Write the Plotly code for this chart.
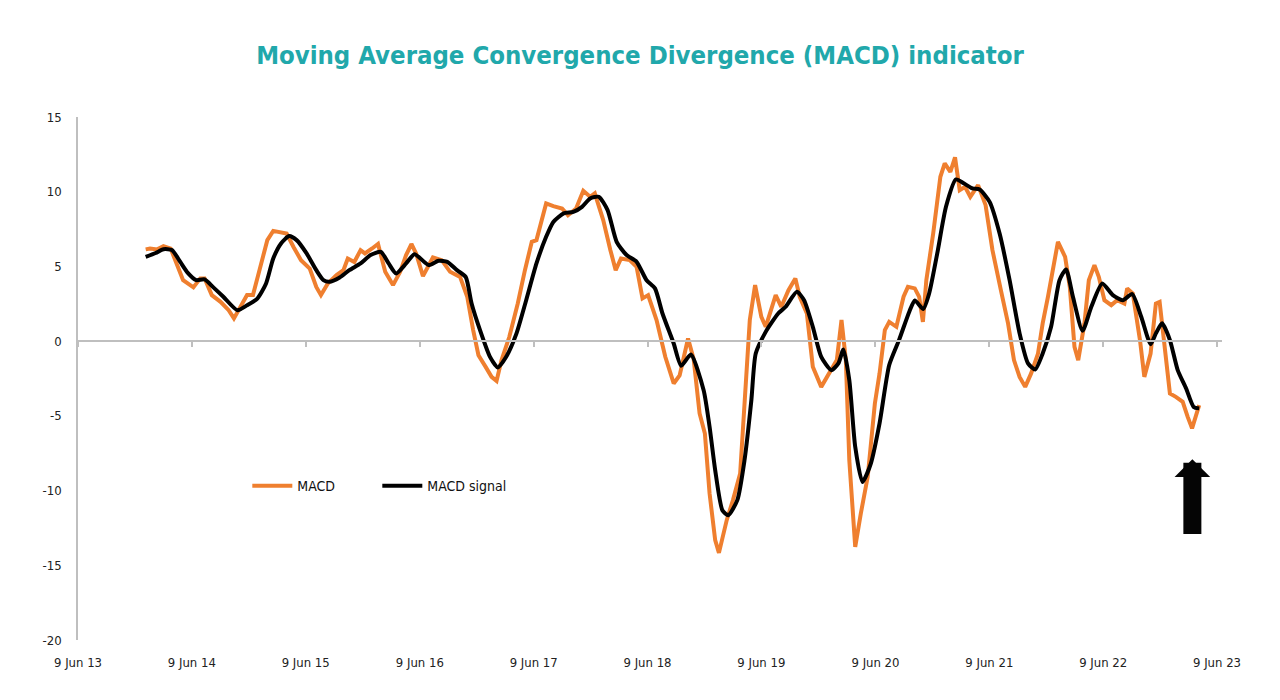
import plotly.graph_objects as go

# ---------------- data ----------------
macd_dates = [
    "2014-01-12", "2014-01-26", "2014-02-18", "2014-03-10", "2014-04-02", "2014-04-21", "2014-05-12",
    "2014-06-14", "2014-07-06", "2014-07-20", "2014-08-12", "2014-09-09", "2014-10-05", "2014-10-22",
    "2014-11-12", "2014-12-03", "2014-12-22", "2015-01-14", "2015-02-06", "2015-02-25", "2015-03-17",
    "2015-04-09", "2015-05-01", "2015-05-25", "2015-06-22", "2015-07-13", "2015-07-28", "2015-08-19",
    "2015-09-16", "2015-10-08", "2015-10-22", "2015-11-12", "2015-12-02", "2015-12-16", "2016-01-08",
    "2016-01-27", "2016-02-19", "2016-03-15", "2016-04-07", "2016-04-26", "2016-05-13", "2016-05-28",
    "2016-06-19", "2016-07-07", "2016-07-21", "2016-08-18", "2016-09-14", "2016-10-16", "2016-11-08",
    "2016-11-27", "2016-12-14", "2017-01-06", "2017-01-25", "2017-02-10", "2017-02-26", "2017-03-23",
    "2017-04-19", "2017-05-12", "2017-06-03", "2017-06-18", "2017-07-05", "2017-07-19", "2017-08-11",
    "2017-09-08", "2017-09-27", "2017-10-23", "2017-11-15", "2017-12-07", "2017-12-22", "2018-01-18",
    "2018-02-10", "2018-02-27", "2018-03-16", "2018-04-13", "2018-05-05", "2018-05-24", "2018-06-11",
    "2018-07-08", "2018-08-05", "2018-09-01", "2018-09-20", "2018-10-17", "2018-11-04", "2018-11-23",
    "2018-12-10", "2018-12-25", "2019-01-12", "2019-01-24", "2019-02-18", "2019-03-10", "2019-04-02",
    "2019-04-16", "2019-05-03", "2019-05-20", "2019-06-09", "2019-06-23", "2019-07-11", "2019-07-25",
    "2019-08-12", "2019-09-04", "2019-09-26", "2019-10-10", "2019-11-02", "2019-11-21", "2019-12-18",
    "2020-01-14", "2020-02-06", "2020-02-21", "2020-03-06", "2020-03-17", "2020-04-05", "2020-04-23",
    "2020-05-15", "2020-06-07", "2020-06-22", "2020-07-09", "2020-07-23", "2020-08-15", "2020-09-07",
    "2020-09-21", "2020-10-13", "2020-10-27", "2020-11-08", "2020-11-19", "2020-12-11", "2021-01-03",
    "2021-01-17", "2021-02-04", "2021-02-19", "2021-03-06", "2021-03-23", "2021-04-09", "2021-05-04",
    "2021-05-28", "2021-06-19", "2021-07-16", "2021-08-08", "2021-08-27", "2021-09-14", "2021-10-02",
    "2021-10-21", "2021-11-12", "2021-11-27", "2021-12-14", "2022-01-01", "2022-01-15", "2022-02-07",
    "2022-02-22", "2022-03-09", "2022-03-21", "2022-04-10", "2022-04-24", "2022-05-12", "2022-05-26",
    "2022-06-13", "2022-07-05", "2022-07-24", "2022-08-16", "2022-08-25", "2022-09-12", "2022-10-05",
    "2022-10-19", "2022-11-08", "2022-11-25", "2022-12-07", "2022-12-22", "2023-01-09", "2023-01-28",
    "2023-02-19", "2023-03-07", "2023-03-21", "2023-04-08", "2023-04-13",
]
macd_values = [
    6.14, 6.2, 6.14, 6.36, 6.2, 5.2, 4.08,
    3.6, 4.2, 4.2, 3.08, 2.63, 2.07, 1.52,
    2.3, 3.08, 3.08, 4.97, 6.76, 7.38, 7.3,
    7.2, 6.3, 5.42, 4.86, 3.63, 3.08, 3.86,
    4.42, 4.75, 5.53, 5.3, 6.09, 5.87, 6.2,
    6.5, 4.64, 3.75, 4.64, 5.76, 6.5, 5.87,
    4.35, 5.09, 5.6, 5.42, 4.64, 4.3, 2.97,
    0.74, -0.94, -1.72, -2.39, -2.66, -1.27, 0.29,
    2.52, 4.75, 6.65, 6.76, 8.1, 9.22, 9.04,
    8.88, 8.43, 8.88, 10.06, 9.66, 9.89, 8.1,
    6.09, 4.75, 5.53, 5.42, 4.97, 2.86, 3.08,
    1.41, -1.05, -2.83, -2.3, 0.18, -1.2, -4.84,
    -6.18, -10.19, -13.32, -14.17, -11.98, -10.64, -8.86,
    -4.62, 1.41, 3.75, 1.63, 0.96, 2.07, 3.08,
    2.3, 3.41, 4.2, 2.97, 1.85, -1.72, -3.06,
    -2.16, -1.27, 1.41, -1.27, -7.97, -13.77, -11.53,
    -9.08, -4.17, -2.16, 0.74, 1.29, 0.96, 2.97,
    3.63, 3.53, 2.97, 1.29, 4.08, 7.2, 11.0,
    11.9, 11.33, 12.3, 10.1, 10.33, 9.66, 10.44,
    9.1, 6.09, 3.41, 1.19, -1.27, -2.39, -3.06,
    -2.16, -0.83, 1.19, 2.97, 5.2, 6.65, 5.64,
    3.63, -0.38, -1.27, 1.19, 4.08, 5.09, 4.3,
    2.74, 2.41, 2.74, 2.52, 3.53, 3.19, 0.07,
    -2.39, -0.83, 2.52, 2.63, -0.38, -3.5, -3.73,
    -4.06, -5.07, -5.84, -4.62, -4.28,
]

signal_dates = [
    "2014-01-12", "2014-02-13", "2014-03-10", "2014-04-06", "2014-05-03", "2014-05-27", "2014-06-23",
    "2014-07-20", "2014-08-17", "2014-09-18", "2014-11-02", "2014-12-03", "2015-01-05", "2015-02-02",
    "2015-02-25", "2015-03-22", "2015-04-17", "2015-05-11", "2015-06-12", "2015-07-13", "2015-08-05",
    "2015-08-24", "2015-09-26", "2015-10-27", "2015-12-02", "2016-01-03", "2016-02-05", "2016-03-01",
    "2016-03-25", "2016-04-26", "2016-05-23", "2016-07-07", "2016-08-08", "2016-09-05", "2016-10-06",
    "2016-11-03", "2016-11-22", "2016-12-19", "2017-01-20", "2017-02-14", "2017-03-13", "2017-04-15",
    "2017-05-16", "2017-06-18", "2017-07-19", "2017-08-11", "2017-09-13", "2017-10-14", "2017-11-11",
    "2017-12-07", "2018-01-04", "2018-02-01", "2018-03-02", "2018-04-03", "2018-05-05", "2018-06-06",
    "2018-07-03", "2018-07-27", "2018-09-01", "2018-09-25", "2018-10-26", "2018-12-06", "2018-12-25",
    "2019-01-12", "2019-02-04", "2019-02-23", "2019-03-24", "2019-04-16", "2019-05-08", "2019-05-22",
    "2019-06-23", "2019-08-02", "2019-08-26", "2019-10-01", "2019-10-24", "2019-11-21", "2019-12-18",
    "2020-01-19", "2020-02-11", "2020-02-27", "2020-03-17", "2020-04-05", "2020-04-28", "2020-05-25",
    "2020-06-22", "2020-07-23", "2020-08-24", "2020-09-26", "2020-10-13", "2020-11-09", "2020-11-28",
    "2020-12-24", "2021-01-21", "2021-02-22", "2021-03-19", "2021-04-16", "2021-05-09", "2021-06-10",
    "2021-07-12", "2021-08-13", "2021-09-14", "2021-10-11", "2021-11-03", "2021-11-27", "2021-12-24",
    "2022-01-20", "2022-02-10", "2022-03-04", "2022-04-04", "2022-05-02", "2022-06-06", "2022-07-10",
    "2022-08-11", "2022-09-10", "2022-10-09", "2022-11-08", "2022-11-25", "2022-12-15", "2023-01-09",
    "2023-02-03", "2023-03-02", "2023-03-26", "2023-04-13",
]
signal_values = [
    5.64, 5.9, 6.15, 6.1, 5.3, 4.57, 4.08,
    4.13, 3.6, 2.97, 2.07, 2.4, 2.85, 3.86,
    5.53, 6.54, 7.03, 6.76, 5.87, 4.75, 4.08,
    3.97, 4.26, 4.75, 5.2, 5.76, 5.98, 5.2,
    4.53, 5.2, 5.82, 5.09, 5.38, 5.31, 4.75,
    4.3, 2.52, 0.74, -1.05, -1.76, -1.05, 0.52,
    2.74, 5.2, 6.98, 7.98, 8.55, 8.65, 8.99,
    9.55, 9.66, 8.77, 6.65, 5.76, 5.31, 4.08,
    3.53, 1.85, -0.16, -1.65, -0.9, -3.28, -5.73,
    -8.63, -11.31, -11.65, -10.64, -7.97, -3.95, -0.83,
    0.62, 1.85, 2.3, 3.3, 2.74, 0.96, -1.05,
    -1.94, -1.49, -0.56, -2.61, -7.07, -9.42, -8.19,
    -5.5, -1.6, 0.1, 2.0, 2.72, 2.15, 3.19,
    5.87, 8.99, 10.82, 10.56, 10.22, 10.15, 9.32,
    7.2, 4.08, 0.52, -1.49, -1.9, -0.83, 0.96,
    4.08, 4.8, 2.97, 0.69, 2.3, 3.86, 3.08,
    2.74, 3.15, 1.63, -0.2, 0.52, 1.19, 0.07,
    -1.94, -3.17, -4.4, -4.5,
]

x_tick_dates = ["2013-06-09", "2014-06-09", "2015-06-09", "2016-06-09", "2017-06-09", "2018-06-09",
                "2019-06-09", "2020-06-09", "2021-06-09", "2022-06-09", "2023-06-09"]
x_tick_labels = ["9 Jun 13", "9 Jun 14", "9 Jun 15", "9 Jun 16", "9 Jun 17", "9 Jun 18",
                 "9 Jun 19", "9 Jun 20", "9 Jun 21", "9 Jun 22", "9 Jun 23"]
y_tick_vals = [15, 10, 5, 0, -5, -10, -15, -20]
y_tick_labels = ["15", "10", "5", "0", "-5", "-10", "-15", "-20"]

title_text = "Moving Average Convergence Divergence (MACD) indicator"

# ---------------- styles ----------------
FONT = "DejaVu Sans Condensed, Liberation Sans Narrow, sans-serif"
ORANGE = "#EF7F2F"
TEAL = "#21A8AB"
GREY = "#BFBFBF"

fig = go.Figure()
fig.add_trace(go.Scatter(x=macd_dates, y=macd_values, mode="lines", name="MACD",
                         line=dict(color=ORANGE, width=4)))
fig.add_trace(go.Scatter(x=signal_dates, y=signal_values, mode="lines", name="MACD signal",
                         line=dict(color="#000000", width=4, shape="spline", smoothing=0.6)))
# helper trace so the tick-bearing axis at zero is drawn
fig.add_trace(go.Scatter(x=[x_tick_dates[0]], y=[0], xaxis="x2", mode="markers",
                         marker=dict(opacity=0), showlegend=False, hoverinfo="skip"))

x_range = ["2013-06-09", "2023-06-25"]

fig.update_layout(
    width=1280, height=700,
    paper_bgcolor="white", plot_bgcolor="white",
    margin=dict(l=70, r=66, t=109, b=68),
    title=dict(text=title_text, x=(640 - 8) / 1280, xanchor="center", y=1 - 47 / 700, yanchor="middle",
               yref="container",
               font=dict(family=FONT, size=25.5, color=TEAL, weight="bold")),
    font=dict(family=FONT, size=13, color="#222222"),
    showlegend=True,
    legend=dict(orientation="h", x=0.148, xanchor="left", y=0.294, yanchor="middle",
                bgcolor="rgba(0,0,0,0)", font=dict(family=FONT, size=14, color="#111111"),
                entrywidth=75, entrywidthmode="pixels", itemwidth=40),
    xaxis=dict(type="date", range=x_range, tickvals=x_tick_dates, ticktext=x_tick_labels,
               showgrid=False, zeroline=False, showline=False,
               ticks="outside", ticklen=10, tickcolor="rgba(0,0,0,0)",
               tickfont=dict(family=FONT, size=13, color="#222222")),
    xaxis2=dict(type="date", matches="x", overlaying="x", anchor="free",
                position=20 / 35, side="bottom", showgrid=False, zeroline=False,
                showline=True, linecolor=GREY, linewidth=2,
                tickvals=x_tick_dates, ticks="outside", ticklen=5, tickcolor=GREY, tickwidth=1.5,
                showticklabels=False),
    yaxis=dict(range=[-20, 15], tickvals=y_tick_vals, ticktext=y_tick_labels,
               showgrid=False, zeroline=False, showline=True, linecolor=GREY, linewidth=1.5,
               ticks="outside", ticklen=12, tickcolor="rgba(0,0,0,0)",
               tickfont=dict(family=FONT, size=13, color="#222222")),
)

fig.add_annotation(x="2023-03-22", y=-7.9, xref="x", yref="y",
                   ax="2023-03-22", ay=-13.0, axref="x", ayref="y",
                   showarrow=True, arrowhead=1, arrowsize=0.33, arrowwidth=18,
                   arrowcolor="#050505", text="")

fig.write_html("out.html")
